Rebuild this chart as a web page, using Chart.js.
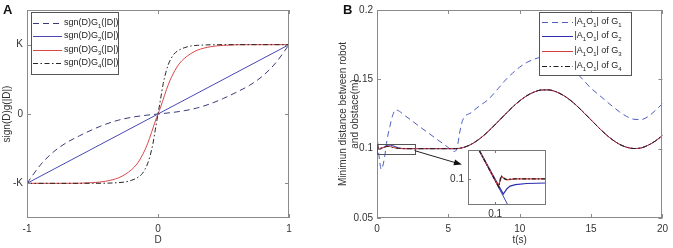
<!DOCTYPE html>
<html>
<head>
<meta charset="utf-8">
<script src="https://cdn.jsdelivr.net/npm/chart.js@4.4.1/dist/chart.umd.min.js"></script>
<style>
  body { margin: 0; background: #fff; width: 673px; height: 248px; overflow: hidden; position: relative; }
  .wrap { position: absolute; }
  .tag { position: absolute; font: bold 13px "Liberation Sans", Arial, sans-serif; color: #111; }
</style>
</head>
<body>
<div class="wrap" style="left:0;top:0;width:336px;height:248px"><canvas id="chartA"></canvas></div>
<div class="wrap" style="left:336px;top:0;width:337px;height:248px"><canvas id="chartB"></canvas></div>
<div class="wrap" style="left:445px;top:140px;width:105px;height:80px"><canvas id="chartInset"></canvas></div>
<div class="tag" style="left:3px;top:2px">A</div>
<div class="tag" style="left:343px;top:2px">B</div>
<script>
// ---- panel A data: sgn(D)G_i(|D|), in units of K ----
const g1D = [-1, -0.9, -0.8, -0.7, -0.6, -0.5, -0.4, -0.3, -0.2, -0.1, 0, 0.1, 0.2, 0.3, 0.4, 0.5, 0.6, 0.7, 0.8, 0.9, 1];
const g1Val = [-1, -0.74, -0.55, -0.415, -0.315, -0.225, -0.148, -0.088, -0.047, -0.02, 0, 0.02, 0.047, 0.088, 0.148, 0.225, 0.315, 0.415, 0.55, 0.74, 1];
const g2D = [-1, 1];
const g2Val = [-1, 1];
const g3D = [-1, -0.7, -0.5, -0.4, -0.3, -0.25, -0.2, -0.16, -0.13, -0.1, -0.08, -0.05, -0.02, 0, 0.02, 0.05, 0.08, 0.1, 0.13, 0.16, 0.2, 0.25, 0.3, 0.4, 0.5, 0.7, 1];
const g3Val = [-1, -1, -0.99, -0.97, -0.92, -0.87, -0.8, -0.72, -0.63, -0.52, -0.43, -0.27, -0.1, 0, 0.1, 0.27, 0.43, 0.52, 0.63, 0.72, 0.8, 0.87, 0.92, 0.97, 0.99, 1, 1];
const g4D = [-1, -0.5, -0.4, -0.3, -0.25, -0.2, -0.15, -0.12, -0.1, -0.08, -0.06, -0.04, -0.02, 0, 0.02, 0.04, 0.06, 0.08, 0.1, 0.12, 0.15, 0.2, 0.25, 0.3, 0.4, 0.5, 1];
const g4Val = [-1, -1, -0.998, -0.99, -0.98, -0.955, -0.91, -0.86, -0.8, -0.72, -0.6, -0.44, -0.22, 0, 0.22, 0.44, 0.6, 0.72, 0.8, 0.86, 0.91, 0.955, 0.98, 0.99, 0.998, 1, 1];
const xTicksA = [-1, 0, 1];
const xLabelsA = ['-1', '0', '1'];
const yTicksA = [-1, 0, 1];
const yLabelsA = ['-K', '0', 'K'];
const legendA = [['sgn(D)G', '1', '(|D|)'], ['sgn(D)G', '2', '(|D|)'], ['sgn(D)G', '3', '(|D|)'], ['sgn(D)G', '4', '(|D|)']];

// ---- panel B data: minimum distance |A1O1| over time ----
const tG1 = [0, 0.1, 0.3, 0.5, 0.7, 0.9, 1.1, 1.3, 2, 3, 4, 5, 5.4, 5.6, 5.8, 6.0, 6.6, 7.2, 7.8, 8.5, 9, 9.5, 10, 10.5, 11, 11.5, 12, 12.5, 13, 13.5, 14, 14.5, 15, 15.5, 16, 16.5, 17, 17.5, 18, 18.5, 19, 19.5, 20];
const distG1 = [0.104, 0.098, 0.085, 0.092, 0.106, 0.116, 0.124, 0.128, 0.1235, 0.1158, 0.1083, 0.1008, 0.098, 0.1, 0.112, 0.1205, 0.126, 0.131, 0.1355, 0.1435, 0.1495, 0.1545, 0.1588, 0.1622, 0.1645, 0.166, 0.1665, 0.1655, 0.163, 0.1595, 0.1545, 0.149, 0.1435, 0.1392, 0.1348, 0.1305, 0.1265, 0.1232, 0.1212, 0.121, 0.1232, 0.1275, 0.1325];
const tSolid = [0, 0.08, 0.15, 0.4, 0.8, 1.1, 1.5, 2, 3, 4, 5, 5.5, 6, 6.5, 7, 7.5, 8, 8.5, 9, 9.5, 10, 10.5, 11, 11.5, 12, 12.5, 13, 13.5, 14, 14.5, 15, 15.5, 16, 16.5, 17, 17.5, 18, 18.5, 19, 19.5, 20];
const distG2 = [0.112, 0.1, 0.0994, 0.1005, 0.1026, 0.1022, 0.1006, 0.1, 0.1, 0.1, 0.1, 0.1, 0.1007, 0.1026, 0.1057, 0.1097, 0.1145, 0.1197, 0.1249, 0.13, 0.1345, 0.1382, 0.1408, 0.1423, 0.1424, 0.1412, 0.1388, 0.1353, 0.1309, 0.1259, 0.1207, 0.1155, 0.1106, 0.1064, 0.1031, 0.101, 0.1001, 0.1005, 0.1025, 0.1055, 0.1095];
const distG3 = [0.112, 0.1, 0.1, 0.1008, 0.1018, 0.101, 0.1002, 0.1, 0.1, 0.1, 0.1, 0.1, 0.1007, 0.1026, 0.1057, 0.1097, 0.1145, 0.1197, 0.1249, 0.13, 0.1345, 0.1382, 0.1408, 0.1423, 0.1424, 0.1412, 0.1388, 0.1353, 0.1309, 0.1259, 0.1207, 0.1155, 0.1106, 0.1064, 0.1031, 0.101, 0.1001, 0.1005, 0.1025, 0.1055, 0.1095];
const distG4 = [0.112, 0.1, 0.1001, 0.1008, 0.1016, 0.1009, 0.1002, 0.1, 0.1, 0.1, 0.1, 0.1, 0.1007, 0.1026, 0.1057, 0.1097, 0.1145, 0.1197, 0.1249, 0.13, 0.1345, 0.1382, 0.1408, 0.1423, 0.1424, 0.1412, 0.1388, 0.1353, 0.1309, 0.1259, 0.1207, 0.1155, 0.1106, 0.1064, 0.1031, 0.101, 0.1001, 0.1005, 0.1025, 0.1055, 0.1095];
const xTicksB = [0, 5, 10, 15, 20];
const yTicksB = [0.05, 0.1, 0.15, 0.2];
const yLabelsB = ['0.05', '0.1', '0.15', '0.2'];
const legendB = [['|A', '1', 'O', '1', '| of G', '1'], ['|A', '1', 'O', '1', '| of G', '2'], ['|A', '1', 'O', '1', '| of G', '3'], ['|A', '1', 'O', '1', '| of G', '4']];

// ---- inset (zoom near the first settling) ----
const insetTG1 = [0.04, 0.16];
const insetG1 = [0.1014, 0.09845];
const insetTG2 = [0.04, 0.124, 0.135, 0.144, 0.16, 0.193, 0.25];
const insetG2 = [0.1014, 0.09942, 0.09962, 0.09972, 0.09978, 0.09982, 0.09984];
const insetTG3 = [0.04, 0.109, 0.119, 0.134, 0.16, 0.25];
const insetG3 = [0.1014, 0.09972, 0.10008, 0.09996, 0.1, 0.1];
const insetTG4 = [0.04, 0.111, 0.117, 0.13, 0.16, 0.25];
const insetG4 = [0.1014, 0.09968, 0.10012, 0.09998, 0.1, 0.1];
const insetTicks = [0.1];

const FONT = '"Liberation Sans", Arial, Helvetica, sans-serif';
const pts = (xs, ys) => xs.map((x, i) => ({ x: x, y: ys[i] }));

// box + inward ticks on all four sides (matlab look)
const framePlugin = {
  id: 'frame',
  afterDatasetsDraw(chart, args, o) {
    const { ctx, chartArea: a, scales } = chart;
    ctx.save();
    ctx.strokeStyle = o.color || '#888';
    ctx.lineWidth = 1;
    ctx.strokeRect(Math.round(a.left) + 0.5, Math.round(a.top) + 0.5, Math.round(a.right - a.left) - 1, Math.round(a.bottom - a.top) - 1);
    const len = o.tick || 4;
    ctx.beginPath();
    scales.x.ticks.forEach(t => {
      const p = Math.round(scales.x.getPixelForValue(t.value)) + 0.5;
      ctx.moveTo(p, a.bottom); ctx.lineTo(p, a.bottom - len);
      ctx.moveTo(p, a.top); ctx.lineTo(p, a.top + len);
    });
    scales.y.ticks.forEach(t => {
      const p = Math.round(scales.y.getPixelForValue(t.value)) + 0.5;
      ctx.moveTo(a.left, p); ctx.lineTo(a.left + len, p);
      ctx.moveTo(a.right, p); ctx.lineTo(a.right - len, p);
    });
    ctx.stroke();
    ctx.restore();
  }
};

const whiteAreaPlugin = {
  id: 'whiteArea',
  beforeDraw(chart, args, o) {
    if (!o.on) return;
    const a = chart.chartArea;
    chart.ctx.save();
    chart.ctx.fillStyle = '#fff';
    chart.ctx.fillRect(a.left, a.top, a.right - a.left, a.bottom - a.top);
    chart.ctx.restore();
  }
};

// zoom rectangle + arrow, given in data units
const zoomMarkPlugin = {
  id: 'zoomMark',
  afterDatasetsDraw(chart, args, o) {
    if (!o.box) return;
    const { ctx } = chart;
    const sx = chart.scales.x, sy = chart.scales.y;
    ctx.save();
    ctx.strokeStyle = '#555';
    ctx.lineWidth = 1;
    const l = Math.round(sx.getPixelForValue(o.box[0])) + 0.5, r = Math.round(sx.getPixelForValue(o.box[1])) + 0.5;
    const t = Math.round(sy.getPixelForValue(o.box[3])) + 0.5, b = Math.round(sy.getPixelForValue(o.box[2])) + 0.5;
    ctx.strokeRect(l, t, r - l, b - t);
    const x0 = sx.getPixelForValue(o.from[0]), y0 = sy.getPixelForValue(o.from[1]);
    const x1 = sx.getPixelForValue(o.to[0]), y1 = sy.getPixelForValue(o.to[1]);
    const ang = Math.atan2(y1 - y0, x1 - x0);
    ctx.strokeStyle = '#222';
    ctx.beginPath(); ctx.moveTo(x0, y0); ctx.lineTo(x1 - 6 * Math.cos(ang), y1 - 6 * Math.sin(ang)); ctx.stroke();
    ctx.fillStyle = '#111';
    ctx.beginPath();
    ctx.moveTo(x1, y1);
    ctx.lineTo(x1 - 8 * Math.cos(ang) + 3 * Math.sin(ang), y1 - 8 * Math.sin(ang) - 3 * Math.cos(ang));
    ctx.lineTo(x1 - 8 * Math.cos(ang) - 3 * Math.sin(ang), y1 - 8 * Math.sin(ang) + 3 * Math.cos(ang));
    ctx.closePath(); ctx.fill();
    ctx.restore();
  }
};

// boxed legend with subscripts (odd parts are subscripts)
const boxLegendPlugin = {
  id: 'boxLegend',
  afterDraw(chart, args, o) {
    if (!o.rows) return;
    const ctx = chart.ctx;
    ctx.save();
    ctx.fillStyle = '#fff';
    ctx.fillRect(o.x, o.y, o.w, o.h);
    ctx.strokeStyle = '#555';
    ctx.lineWidth = 1;
    ctx.strokeRect(o.x + 0.5, o.y + 0.5, o.w, o.h);
    o.rows.forEach((parts, i) => {
      const ds = chart.data.datasets[i];
      const y = Math.round(o.y + o.firstRow + i * o.rowGap);
      ctx.strokeStyle = ds.borderColor;
      ctx.lineWidth = ds.borderWidth;
      ctx.setLineDash(ds.borderDash || []);
      ctx.beginPath(); ctx.moveTo(o.x + o.line0, y + 0.5); ctx.lineTo(o.x + o.line1, y + 0.5); ctx.stroke();
      ctx.setLineDash([]);
      let tx = o.x + o.text0;
      ctx.fillStyle = '#222';
      ctx.textBaseline = 'middle';
      parts.forEach((p, j) => {
        const sub = j % 2 === 1;
        ctx.font = (sub ? o.subSize : o.size) + 'px ' + FONT;
        ctx.fillText(p, tx, y + (sub ? 3 : 0));
        tx += ctx.measureText(p).width;
      });
    });
    ctx.restore();
  }
};

Chart.register(framePlugin, whiteAreaPlugin, zoomMarkPlugin, boxLegendPlugin);

const tickFont = { family: FONT, size: 10 };
const titleFont = { family: FONT, size: 10, lineHeight: 1.2 };
const noGrid = { display: false, drawTicks: false };

function fixedTicks(vals) {
  return scale => { scale.ticks = vals.map(v => ({ value: v })); };
}

// ---------- panel A ----------
new Chart(document.getElementById('chartA'), {
  type: 'line',
  data: {
    datasets: [
      { data: pts(g1D, g1Val), borderColor: '#3a3a7a', borderDash: [6, 4], borderWidth: 1, order: 3 },
      { data: pts(g2D, g2Val), borderColor: '#4848b4', borderWidth: 1, order: 2 },
      { data: pts(g3D, g3Val), borderColor: '#d84848', borderWidth: 1, order: 1 },
      { data: pts(g4D, g4Val), borderColor: '#262626', borderDash: [5, 2.5, 1.5, 2.5], borderWidth: 1, order: 0 }
    ]
  },
  options: {
    animation: false,
    responsive: true,
    maintainAspectRatio: false,
    elements: { point: { radius: 0 }, line: { cubicInterpolationMode: 'monotone' } },
    layout: { padding: { left: 0, top: 4, right: 47, bottom: 0 } },
    scales: {
      x: {
        type: 'linear', min: -1, max: 1,
        grid: noGrid, border: { display: false },
        afterBuildTicks: fixedTicks(xTicksA),
        afterFit: s => { s.height = 30; },
        ticks: { font: tickFont, color: '#333', padding: 5, maxRotation: 0, callback: (v, i) => xLabelsA[i] },
        title: { display: true, text: 'D', font: titleFont, color: '#333', padding: { top: 0, bottom: 2 } }
      },
      y: {
        type: 'linear', min: -1.5, max: 1.5,
        grid: noGrid, border: { display: false },
        afterBuildTicks: fixedTicks(yTicksA),
        afterFit: s => { s.width = 27; },
        ticks: { font: tickFont, color: '#333', padding: 4, callback: (v, i) => yLabelsA[i] },
        title: { display: true, text: 'sign(D)g(|D|)', font: titleFont, color: '#333', padding: { top: 1, bottom: 0 } }
      }
    },
    plugins: {
      legend: { display: false },
      tooltip: { enabled: false },
      frame: { color: '#8a8a8a', tick: 4 },
      boxLegend: { rows: legendA, x: 31, y: 12, w: 87, h: 62, firstRow: 10.5, rowGap: 13.5, line0: 2, line1: 31, text0: 33, size: 9, subSize: 6 }
    }
  }
});

// ---------- panel B ----------
new Chart(document.getElementById('chartB'), {
  type: 'line',
  data: {
    datasets: [
      { data: pts(tG1, distG1), borderColor: '#4c5fbf', borderDash: [6, 4], borderWidth: 1, order: 3 },
      { data: pts(tSolid, distG2), borderColor: '#2c2cb0', borderWidth: 1, order: 2 },
      { data: pts(tSolid, distG3), borderColor: '#d83c3c', borderWidth: 1, order: 1 },
      { data: pts(tSolid, distG4), borderColor: '#1e1e1e', borderDash: [5, 2.5, 1.5, 2.5], borderWidth: 1, order: 0 }
    ]
  },
  options: {
    animation: false,
    responsive: true,
    maintainAspectRatio: false,
    elements: { point: { radius: 0 }, line: { cubicInterpolationMode: 'monotone' } },
    layout: { padding: { left: 0, top: 5, right: 5, bottom: 0 } },
    scales: {
      x: {
        type: 'linear', min: 0, max: 20,
        grid: noGrid, border: { display: false },
        afterBuildTicks: fixedTicks(xTicksB),
        afterFit: s => { s.height = 30; },
        ticks: { font: tickFont, color: '#333', padding: 5, maxRotation: 0 },
        title: { display: true, text: 't(s)', font: titleFont, color: '#333', padding: { top: 0, bottom: 2 } }
      },
      y: {
        type: 'linear', min: 0.05, max: 0.2,
        grid: noGrid, border: { display: false },
        afterBuildTicks: fixedTicks(yTicksB),
        afterFit: s => { s.width = 41; },
        ticks: { font: tickFont, color: '#333', padding: 4, callback: (v, i) => yLabelsB[i] },
        title: { display: true, text: ['Minimun distance between robot', 'and obstace(m)'], font: titleFont, color: '#333', padding: { top: 1, bottom: 0 } }
      }
    },
    plugins: {
      legend: { display: false },
      tooltip: { enabled: false },
      frame: { color: '#8a8a8a', tick: 4 },
      zoomMark: { box: [0, 2.63, 0.0963, 0.1037], from: [2.63, 0.0986], to: [5.95, 0.0885] },
      boxLegend: { rows: legendB, x: 203, y: 12, w: 92, h: 63, firstRow: 9.7, rowGap: 14.7, line0: 3, line1: 34, text0: 35.5, size: 9, subSize: 6 }
    }
  }
});

// ---------- inset ----------
new Chart(document.getElementById('chartInset'), {
  type: 'line',
  data: {
    datasets: [
      { data: pts(insetTG1, insetG1), borderColor: '#3a4aa8', borderWidth: 1, order: 3 },
      { data: pts(insetTG2, insetG2), borderColor: '#2c2cb0', borderWidth: 1.2, order: 2 },
      { data: pts(insetTG3, insetG3), borderColor: '#d83c3c', borderWidth: 1.2, order: 1 },
      { data: pts(insetTG4, insetG4), borderColor: '#1e1e1e', borderDash: [4, 2, 1.5, 2], borderWidth: 1.2, order: 0 }
    ]
  },
  options: {
    animation: false,
    responsive: true,
    maintainAspectRatio: false,
    elements: { point: { radius: 0 }, line: { tension: 0 } },
    layout: { padding: { left: 0, top: 7, right: 4, bottom: 0 } },
    scales: {
      x: {
        type: 'linear', min: 0.02, max: 0.25,
        grid: noGrid, border: { display: false },
        afterBuildTicks: fixedTicks(insetTicks),
        afterFit: s => { s.height = 15; },
        ticks: { font: tickFont, color: '#333', padding: 3, maxRotation: 0, callback: () => '0.1' }
      },
      y: {
        type: 'linear', min: 0.099, max: 0.1011,
        grid: noGrid, border: { display: false },
        afterBuildTicks: fixedTicks(insetTicks),
        afterFit: s => { s.width = 23; },
        ticks: { font: tickFont, color: '#333', padding: 4, callback: () => '0.1' }
      }
    },
    plugins: {
      legend: { display: false },
      tooltip: { enabled: false },
      whiteArea: { on: true },
      frame: { color: '#777', tick: 3 }
    }
  }
});
</script>
</body>
</html>
